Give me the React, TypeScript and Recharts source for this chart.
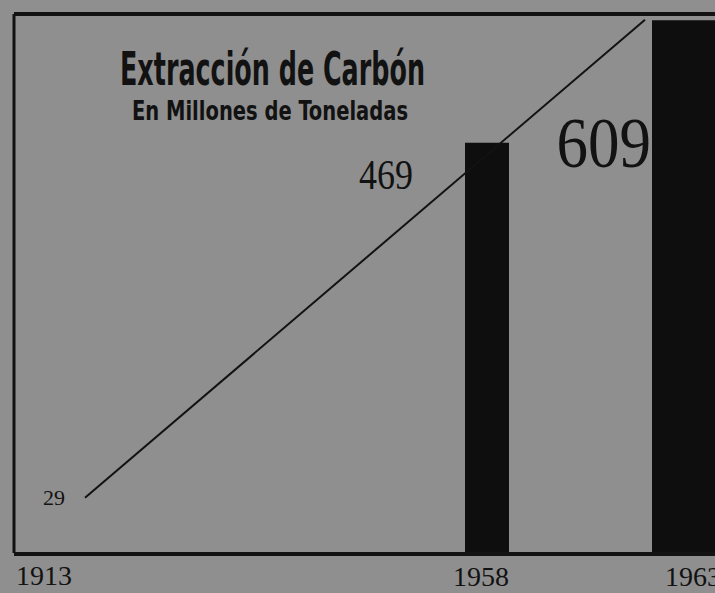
import React from 'react'
import { ComposedChart, Bar, Line, XAxis, YAxis, LabelList } from 'recharts'

// coal extraction, millions of tonnes
const barYears = ['1958', '1963']
const barValues = [469, 609]
const lineYears = [1913, 1963]
const lineValues = [29, 609]

const title = 'Extracción de Carbón'
const subtitle = 'En Millones de Toneladas'

const BG = '#8f8f8f'
const INK = '#121212'
const BAR = '#0e0e0e'
const SERIF = '"Liberation Serif", "Times New Roman", serif'
const NARROW = '"Liberation Sans Narrow", "DejaVu Sans Condensed", "Liberation Sans", sans-serif'

const barData = barYears.map((year, i) => ({ year, [`y${year}`]: barValues[i] }))
const lineData = lineYears.map((year, i) => ({ year, value: lineValues[i] }))

function YearTick(props: any) {
  const { x, y, payload, shift, anchor } = props
  return (
    <text x={Number(x) + shift} y={y} dy="0.71em" textAnchor={anchor}
      fontFamily={SERIF} fontSize={28} fill={INK}>
      {payload.value}
    </text>
  )
}

// value labels sit to the left of the bar
function valueLabel(p: any, dx: number, dy: number, size: number) {
  if (p.value == null) return null
  const x = Number(p.x) + dx
  const y = Number(p.y) + dy
  return (
    <text transform={`translate(${x},${y}) scale(1,1.15)`} textAnchor="end"
      fontFamily={SERIF} fontSize={size} fill={INK}>
      {p.value}
    </text>
  )
}

function startLabel(p: any) {
  if (p.index !== 0) return null
  return (
    <text x={Number(p.x) - 20} y={Number(p.y) + 7} textAnchor="end"
      fontFamily={SERIF} fontSize={22} fill={INK}>
      {p.value}
    </text>
  )
}

export default function App() {
  return (
    <div style={{ position: 'absolute', left: 0, top: 0, width: 715, height: 593, overflow: 'hidden', background: BG }}>
      <ComposedChart width={815} height={593} data={barData}
        margin={{ top: 13, right: 10, bottom: 38, left: 13 }}>
        <XAxis xAxisId="top" orientation="top" dataKey="year" height={1}
          tick={false} tickLine={false} axisLine={{ stroke: INK, strokeWidth: 4 }} />
        <XAxis xAxisId="line" type="number" dataKey="year" domain={[1913, 1963]} ticks={[lineYears[0]]}
          height={1} padding={{ left: 71, right: 160 }} axisLine={false} tickLine={false}
          tickSize={0} tickMargin={12}
          tick={(p: any) => <YearTick {...p} shift={-13} anchor="end" />} />
        <XAxis xAxisId="years" dataKey="year" height={1} padding={{ left: 367, right: 0 }}
          axisLine={{ stroke: INK, strokeWidth: 4 }} tickLine={false} tickSize={0} tickMargin={12}
          tick={(p: any) => <YearTick {...p} shift={-6} anchor="middle" />} />
        <XAxis xAxisId="years2" dataKey="year" hide padding={{ left: 367, right: 0 }} />
        <YAxis yAxisId="bars" domain={[0, 616]} width={1} tick={false} tickLine={false}
          axisLine={{ stroke: INK, strokeWidth: 3 }} />
        <YAxis yAxisId="line" hide domain={[-38, 616]} />

        <Line xAxisId="line" yAxisId="line" data={lineData} dataKey="value" stroke={INK}
          strokeWidth={2} dot={false} isAnimationActive={false}>
          <LabelList dataKey="value" content={startLabel} />
        </Line>
        <Bar xAxisId="years" yAxisId="bars" dataKey="y1958" barSize={44} fill={BAR} isAnimationActive={false}>
          <LabelList dataKey="y1958" content={(p: any) => valueLabel(p, -52, 46, 36)} />
        </Bar>
        <Bar xAxisId="years2" yAxisId="bars" dataKey="y1963" barSize={94} fill={BAR} isAnimationActive={false}>
          <LabelList dataKey="y1963" content={(p: any) => valueLabel(p, -1, 147, 63)} />
        </Bar>
      </ComposedChart>
      <svg width={715} height={593} style={{ position: 'absolute', left: 0, top: 0, pointerEvents: 'none' }}>
        <text x={120} y={85} fontFamily={NARROW} fontWeight="bold" fontSize={46} fill={INK}
          textLength={305} lengthAdjust="spacingAndGlyphs">{title}</text>
        <text x={132} y={120} fontFamily={NARROW} fontWeight="bold" fontSize={27} fill={INK}
          textLength={276} lengthAdjust="spacingAndGlyphs">{subtitle}</text>
      </svg>
    </div>
  )
}
